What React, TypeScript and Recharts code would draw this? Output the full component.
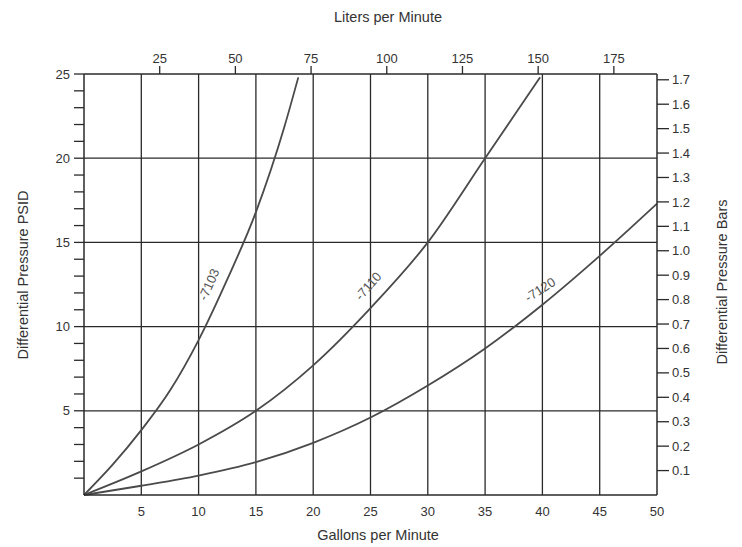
import React from 'react';
import {
  LineChart, Line, XAxis, YAxis, CartesianGrid, ReferenceDot,
} from 'recharts';

// flow in gallons per minute, pressure in PSID
const gpm7103 = [0, 2.5, 5, 7.5, 10, 12.5, 15, 17.5, 18.7];
const psi7103 = [0, 1.8, 3.85, 6.2, 9.2, 12.8, 16.8, 21.9, 24.8];

const gpm7110 = [0, 5, 10, 15, 20, 25, 30, 35, 39.8];
const psi7110 = [0, 1.4, 3.0, 5.0, 7.7, 11.1, 15.0, 20.0, 24.8];

const gpm7120 = [0, 5, 10, 15, 20, 25, 30, 35, 40, 45, 50];
const psi7120 = [0, 0.55, 1.15, 1.95, 3.1, 4.6, 6.5, 8.7, 11.3, 14.2, 17.3];

const gpmTicks = [5, 10, 15, 20, 25, 30, 35, 40, 45, 50];
const gpmGrid = [5, 10, 15, 20, 25, 30, 35, 40, 45];
const psiTicks = [1, 2, 3, 4, 5, 6, 7, 8, 9, 10, 11, 12, 13, 14, 15, 16, 17, 18, 19, 20, 21, 22, 23, 24, 25];
const psiGrid = [5, 10, 15, 20];
const lpmTicks = [25, 50, 75, 100, 125, 150, 175];
const barTicks = [0.1, 0.2, 0.3, 0.4, 0.5, 0.6, 0.7, 0.8, 0.9, 1.0, 1.1, 1.2, 1.3, 1.4, 1.5, 1.6, 1.7];

const curveNames = ['-7103', '-7110', '-7120'];
const labelGpm = [10.9, 24.8, 39.8];
const labelPsi = [12.5, 12.4, 12.2];
const labelAngle = [-66, -49, -33];

const GPM_MAX = 50;
const PSI_MAX = 25;
const LPM_PER_GPM = 3.785;
const PSI_PER_BAR = 14.5038;

const toPoints = (gpm: number[], psi: number[]) => gpm.map((g, i) => ({ gpm: g, psi: psi[i] }));
const series = [
  toPoints(gpm7103, psi7103),
  toPoints(gpm7110, psi7110),
  toPoints(gpm7120, psi7120),
];
// same -7120 curve in metric units, only so the top and right axes get drawn
const metric7120 = gpm7120.map((g, i) => ({ lpm: g * LPM_PER_GPM, bar: psi7120[i] / PSI_PER_BAR }));

const FONT = '"Liberation Sans", Arial, sans-serif';
const INK = '#2a2a2a';
const TICK = { fill: '#333', fontSize: 13, fontFamily: FONT };

function PsiTick(props: any) {
  const { x, y, payload } = props;
  if (payload.value % 5 !== 0) return null;
  return (
    <text x={x} y={y} textAnchor="end" dominantBaseline="central" {...TICK}>
      {payload.value}
    </text>
  );
}

const titleStyle: React.CSSProperties = {
  position: 'absolute', fontSize: 14.5, color: '#333', fontFamily: FONT, whiteSpace: 'nowrap',
};

export default function App() {
  return (
    <div style={{ position: 'absolute', left: 0, top: 0, width: 742, height: 547, background: '#fff' }}>
      <LineChart
        width={742}
        height={547}
        margin={{ top: 44, right: 30, bottom: 22, left: 24 }}
      >
        <CartesianGrid
          horizontalValues={psiGrid}
          verticalValues={gpmGrid}
          stroke={INK}
          strokeWidth={1.3}
        />
        <XAxis
          dataKey="gpm"
          type="number"
          domain={[0, GPM_MAX]}
          ticks={gpmTicks}
          height={30}
          tick={TICK}
          tickLine={false}
          tickMargin={6}
          axisLine={{ stroke: INK, strokeWidth: 1.5 }}
        />
        <XAxis
          xAxisId="lpm"
          dataKey="lpm"
          orientation="top"
          type="number"
          domain={[0, GPM_MAX * LPM_PER_GPM]}
          allowDataOverflow
          ticks={lpmTicks}
          height={30}
          tick={TICK}
          tickSize={8}
          tickMargin={3}
          tickLine={{ stroke: INK, strokeWidth: 1.3 }}
          axisLine={{ stroke: INK, strokeWidth: 1.5 }}
        />
        <YAxis
          type="number"
          domain={[0, PSI_MAX]}
          ticks={psiTicks}
          interval={0}
          width={60}
          tick={<PsiTick />}
          tickSize={10}
          tickMargin={4}
          tickLine={{ stroke: INK, strokeWidth: 1.3 }}
          axisLine={{ stroke: INK, strokeWidth: 1.5 }}
        />
        <YAxis
          yAxisId="bar"
          orientation="right"
          type="number"
          domain={[0, PSI_MAX / PSI_PER_BAR]}
          allowDataOverflow
          ticks={barTicks}
          interval={0}
          width={55}
          tick={TICK}
          tickFormatter={(v: number) => v.toFixed(1)}
          tickSize={12}
          tickMargin={3}
          tickLine={{ stroke: INK, strokeWidth: 1.3 }}
          axisLine={{ stroke: INK, strokeWidth: 1.5 }}
        />
        <Line
          xAxisId="lpm"
          yAxisId="bar"
          data={metric7120}
          dataKey="bar"
          type="monotone"
          stroke="none"
          dot={false}
          activeDot={false}
          isAnimationActive={false}
        />
        {series.map((d, i) => (
          <Line
            key={curveNames[i]}
            data={d}
            dataKey="psi"
            type="monotone"
            stroke="#4a4a4a"
            strokeWidth={1.8}
            dot={false}
            activeDot={false}
            isAnimationActive={false}
          />
        ))}
        {curveNames.map((name, i) => (
          <ReferenceDot
            key={name}
            x={labelGpm[i]}
            y={labelPsi[i]}
            r={0}
            ifOverflow="visible"
            shape={(p: any) => (
              <text
                x={p.cx}
                y={p.cy}
                transform={`rotate(${labelAngle[i]} ${p.cx} ${p.cy})`}
                textAnchor="middle"
                dominantBaseline="central"
                fontSize={13}
                fontFamily={FONT}
                fill="#555"
              >
                {name}
              </text>
            )}
          />
        ))}
      </LineChart>
      <div style={{ ...titleStyle, left: 388, top: 17, transform: 'translate(-50%, -50%)' }}>Liters per Minute</div>
      <div style={{ ...titleStyle, left: 378, top: 535, transform: 'translate(-50%, -50%)' }}>Gallons per Minute</div>
      <div style={{ ...titleStyle, left: 23, top: 275, transform: 'translate(-50%, -50%) rotate(-90deg)' }}>Differential Pressure PSID</div>
      <div style={{ ...titleStyle, left: 722, top: 282, transform: 'translate(-50%, -50%) rotate(-90deg)' }}>Differential Pressure Bars</div>
    </div>
  );
}
